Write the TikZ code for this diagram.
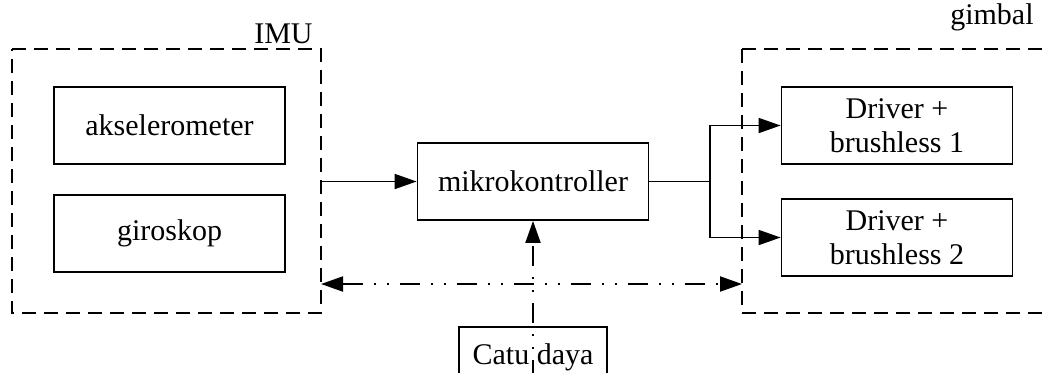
\documentclass[tikz,border=0pt]{standalone}
\usepackage{fontspec}
\setmainfont{Liberation Serif}
\usetikzlibrary{arrows.meta}
\begin{document}
\begin{tikzpicture}[x=0.5pt,y=-0.5pt,
  box/.style={draw,line width=0.9pt,minimum width=115.5pt,minimum height=38.5pt,inner sep=0pt,align=center,font=\fontsize{15}{17}\selectfont},
  group/.style={draw,line width=0.9pt,dash pattern=on 7pt off 4pt},
  lbl/.style={font=\fontsize{15}{17}\selectfont,inner sep=0pt},
  tip/.style={-{Triangle[length=11pt,width=7.5pt]}},
  power/.style={line width=1pt,dash pattern=on 10pt off 5.5pt on 1pt off 5.5pt on 1pt off 5.5pt}]
\useasboundingbox (0,0) rectangle (1043,372);
% groups
\draw[group] (12,49) -- (321,49) -- (321,313) -- (12,313) -- cycle;
\draw[group] (742,49) -- (742,313) (742,49) -- (1060,49) (742,313) -- (1060,313);
\node[lbl,anchor=south east] (imu) at (313,44) {IMU};
\node[lbl,anchor=south east] (gimbal) at (1034,31) {gimbal};
% blocks
\node[box] (aks) at (169.5,125.5) {akselerometer};
\node[box] (giro) at (169.5,233.5) {giroskop};
\node[box] (mcu) at (533,181.5) {mikrokontroller};
\node[box] (drv1) at (897,125.5) {Driver +\\brushless 1};
\node[box] (drv2) at (897,237.5) {Driver +\\brushless 2};
\node[box,minimum width=74pt,minimum height=30pt,anchor=north] (catu) at (533,326) {Catu daya};
% signal path
\coordinate (imuout) at (321,181.5);
\coordinate (split) at (710,181.5);
\draw[line width=0.9pt,tip] (imuout) -- (mcu.west);
\draw[line width=0.9pt] (mcu.east) -- (split);
\draw[line width=0.9pt,tip] (split) |- (drv1.west);
\draw[line width=0.9pt,tip] (split) |- (drv2.west);
% power distribution
\coordinate (pl) at (321,284);
\coordinate (pr) at (742,284);
\coordinate (pb) at (533,380);
\draw[power,{Triangle[length=11pt,width=7.5pt]}-{Triangle[length=11pt,width=7.5pt]}] (pl) -- (pr);
\draw[power,tip] (pb) -- (mcu.south);
\end{tikzpicture}
\end{document}
